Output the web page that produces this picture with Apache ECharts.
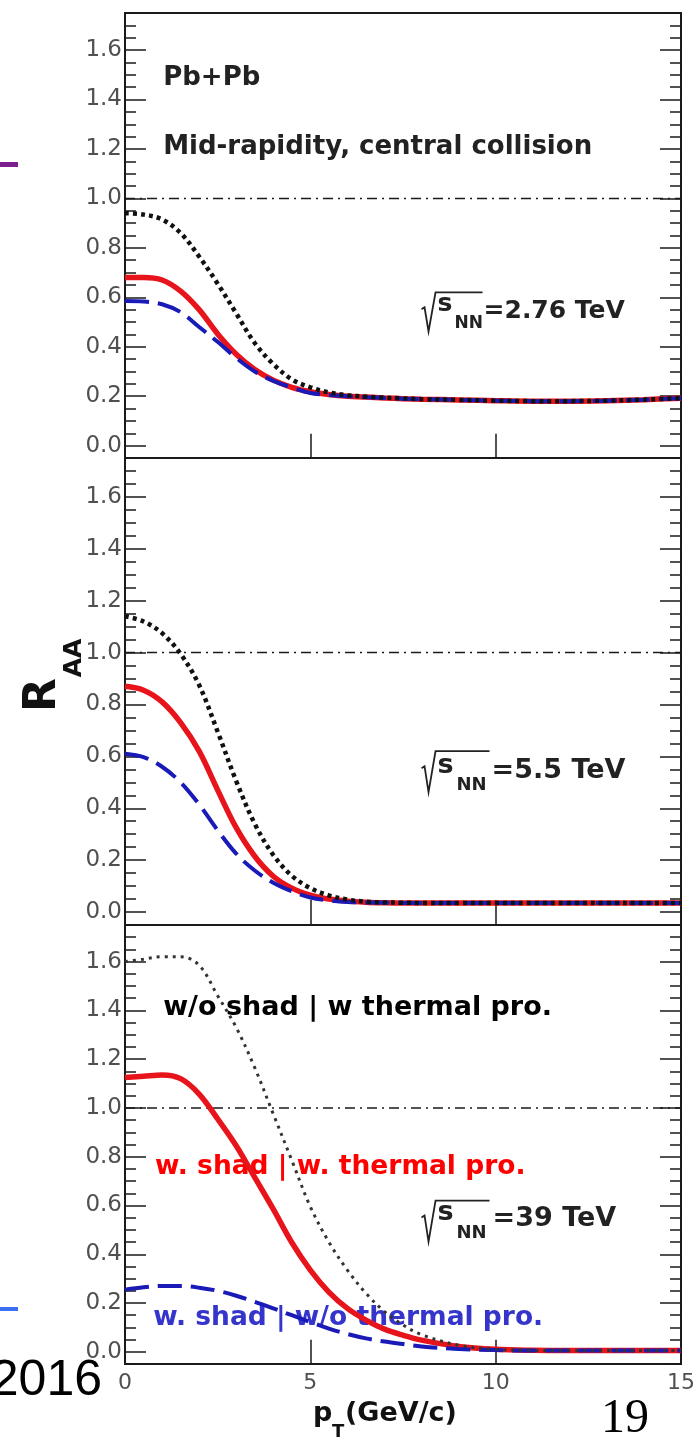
<!DOCTYPE html>
<html>
<head>
<meta charset="utf-8">
<script src="https://cdn.jsdelivr.net/npm/echarts@6/dist/echarts.min.js"></script>
<style>
  html, body { margin: 0; padding: 0; background: #fff; }
  #chart { width: 700px; height: 1440px; }
</style>
</head>
<body>
<div id="chart"></div>
<script>
// Transverse momentum grid (GeV/c)
const pT = [0, 0.5, 1, 1.5, 2, 2.5, 3, 3.5, 4, 4.5, 5, 5.5, 6, 6.5, 7, 7.5, 8, 9, 10, 11, 12, 13, 14, 15];

// sqrt(s_NN) = 2.76 TeV
const raa276_noShadThermal = [0.94, 0.935, 0.915, 0.86, 0.765, 0.655, 0.535, 0.415, 0.33, 0.268, 0.236, 0.215, 0.204, 0.198, 0.194, 0.191, 0.188, 0.185, 0.182, 0.18, 0.18, 0.182, 0.186, 0.192];
const raa276_shadThermal   = [0.68, 0.68, 0.67, 0.625, 0.55, 0.452, 0.37, 0.308, 0.265, 0.236, 0.218, 0.207, 0.2, 0.197, 0.193, 0.19, 0.188, 0.185, 0.182, 0.18, 0.18, 0.182, 0.186, 0.192];
const raa276_shadNoThermal = [0.585, 0.583, 0.572, 0.54, 0.48, 0.42, 0.355, 0.3, 0.262, 0.235, 0.213, 0.205, 0.2, 0.196, 0.193, 0.19, 0.188, 0.185, 0.182, 0.18, 0.18, 0.182, 0.186, 0.192];

// sqrt(s_NN) = 5.5 TeV
const raa55_noShadThermal = [1.14, 1.12, 1.075, 0.995, 0.875, 0.695, 0.505, 0.34, 0.22, 0.14, 0.092, 0.064, 0.048, 0.04, 0.037, 0.036, 0.035, 0.035, 0.035, 0.035, 0.035, 0.035, 0.035, 0.035];
const raa55_shadThermal   = [0.87, 0.855, 0.81, 0.73, 0.62, 0.47, 0.325, 0.215, 0.138, 0.092, 0.065, 0.05, 0.042, 0.038, 0.036, 0.035, 0.035, 0.035, 0.035, 0.035, 0.035, 0.035, 0.035, 0.035];
const raa55_shadNoThermal = [0.61, 0.597, 0.56, 0.5, 0.415, 0.315, 0.225, 0.16, 0.113, 0.08, 0.056, 0.045, 0.039, 0.037, 0.036, 0.035, 0.035, 0.035, 0.035, 0.035, 0.035, 0.035, 0.035, 0.035];

// sqrt(s_NN) = 39 TeV
const raa39_noShadThermal = [1.6, 1.61, 1.62, 1.62, 1.585, 1.46, 1.33, 1.165, 0.975, 0.785, 0.595, 0.45, 0.335, 0.24, 0.165, 0.11, 0.07, 0.027, 0.01, 0.006, 0.005, 0.005, 0.005, 0.005];
const raa39_shadThermal   = [1.125, 1.13, 1.135, 1.12, 1.057, 0.955, 0.845, 0.715, 0.585, 0.448, 0.335, 0.245, 0.178, 0.13, 0.093, 0.068, 0.048, 0.022, 0.01, 0.006, 0.005, 0.005, 0.005, 0.005];
const raa39_shadNoThermal = [0.255, 0.265, 0.27, 0.27, 0.263, 0.25, 0.23, 0.205, 0.178, 0.15, 0.122, 0.095, 0.073, 0.055, 0.042, 0.032, 0.022, 0.012, 0.007, 0.005, 0.005, 0.005, 0.005, 0.005];

// Unity reference line R_AA = 1
const unityX = [0, 15];
const unityY = [1, 1];

// Tick labels
const yMajorTicks = [0, 0.2, 0.4, 0.6, 0.8, 1.0, 1.2, 1.4, 1.6];
const xTicks = [0, 5, 10, 15];
const energyLabels = ['=2.76 TeV', '=5.5 TeV', '=39 TeV'];

const panels = [
  { noShad: raa276_noShadThermal, shadTh: raa276_shadThermal, shadNoTh: raa276_shadNoThermal },
  { noShad: raa55_noShadThermal,  shadTh: raa55_shadThermal,  shadNoTh: raa55_shadNoThermal },
  { noShad: raa39_noShadThermal,  shadTh: raa39_shadThermal,  shadNoTh: raa39_shadNoThermal }
];

const Y_MIN = -0.05, Y_MAX = 1.75;
const FONT = '"DejaVu Sans", sans-serif';
const INK = '#1a1a1a';

const gridBoxes = [
  { top: 13,  height: 445 },
  { top: 458, height: 467 },
  { top: 925, height: 439 }
];

const grid = gridBoxes.map(b => ({
  left: 125, right: 19, top: b.top, height: b.height,
  show: true, borderColor: INK, borderWidth: 2, backgroundColor: 'transparent'
}));

const xAxis = [];
const yAxis = [];
gridBoxes.forEach((b, g) => {
  ['bottom', 'top'].forEach(pos => {
    xAxis.push({
      gridIndex: g, type: 'value', position: pos, min: 0, max: 15, interval: 5,
      axisLine: { show: false },
      axisTick: { inside: true, length: 12, lineStyle: { color: INK, width: 1.5 } },
      axisLabel: {
        show: pos === 'bottom' && g === 2, margin: 8,
        customValues: xTicks,
        fontFamily: FONT, fontSize: 22, color: '#505050'
      },
      splitLine: { show: false }
    });
  });
  ['left', 'right'].forEach(pos => {
    // major ticks with labels
    yAxis.push({
      gridIndex: g, type: 'value', position: pos, min: Y_MIN, max: Y_MAX,
      axisLine: { show: false },
      axisTick: { inside: true, length: 21, customValues: yMajorTicks, lineStyle: { color: INK, width: 1.5 } },
      axisLabel: {
        show: pos === 'left', margin: 3, customValues: yMajorTicks,
        formatter: v => v.toFixed(1),
        fontFamily: FONT, fontSize: 23, color: '#505050'
      },
      splitLine: { show: false }
    });
    // minor ticks every 0.05
    yAxis.push({
      gridIndex: g, type: 'value', position: pos, min: Y_MIN, max: Y_MAX, interval: 0.05,
      axisLine: { show: false },
      axisTick: { inside: true, length: 11, lineStyle: { color: INK, width: 1.5 } },
      axisLabel: { show: false },
      splitLine: { show: false }
    });
  });
});

const pairs = (xs, ys) => xs.map((x, i) => [x, ys[i]]);

const series = [];
panels.forEach((p, g) => {
  const xi = 2 * g, yi = 4 * g;
  series.push({
    type: 'line', xAxisIndex: xi, yAxisIndex: yi, data: pairs(unityX, unityY),
    symbol: 'none', silent: true,
    lineStyle: { color: INK, width: 1.5, type: [10, 5, 2, 5] }
  });
  series.push({
    name: 'w. shad | w. thermal pro.', type: 'line', xAxisIndex: xi, yAxisIndex: yi,
    data: pairs(pT, p.shadTh), symbol: 'none', smooth: 0.35,
    lineStyle: { color: '#e8141c', width: 5.5 }
  });
  series.push({
    name: 'w. shad | w/o thermal pro.', type: 'line', xAxisIndex: xi, yAxisIndex: yi,
    data: pairs(pT, p.shadNoTh), symbol: 'none', smooth: 0.35,
    lineStyle: { color: '#1a1ab8', width: 4, type: [24, 9] }
  });
  series.push({
    name: 'w/o shad | w thermal pro.', type: 'line', xAxisIndex: xi, yAxisIndex: yi,
    data: pairs(pT, p.noShad), symbol: 'none', smooth: 0.35,
    lineStyle: g === 2 ? { color: '#333', width: 3, type: [3, 5] }
                       : { color: '#111', width: 4.5, type: [4, 4] }
  });
});

const chart = echarts.init(document.getElementById('chart'), null, { renderer: 'canvas' });
chart.setOption({
  animation: false,
  backgroundColor: '#fff',
  grid, xAxis, yAxis, series
});

// data -> pixel for panel g
const toPx = (g, pt) => chart.convertToPixel({ xAxisIndex: 2 * g, yAxisIndex: 4 * g }, pt);

function label(g, pt, text, size, color) {
  const [x, y] = toPx(g, pt);
  return {
    type: 'text', x, y, silent: true,
    style: { text, fill: color, font: `bold ${size}px ${FONT}`, align: 'left', verticalAlign: 'middle' }
  };
}

// sqrt(s_NN) energy label: radical with overline, s, NN subscript and the value
const sqrtLayouts = [
  { fs: 25, sub: 17, sx: 16, sy: 12, nx: 33, ny: 31, tx: 62, ty: 19, bottom: 39, over: 61 },
  { fs: 27, sub: 18, sx: 16, sy: 15, nx: 35, ny: 34, tx: 70, ty: 20, bottom: 41, over: 68 },
  { fs: 27, sub: 18, sx: 16, sy: 12, nx: 35, ny: 33, tx: 71, ty: 18, bottom: 41, over: 68 }
];
function sqrtLabel(g) {
  const L = sqrtLayouts[g];
  const [x, y] = toPx(g, [8.0, 0.62]);
  const txt = (t, dx, dy, fs) => ({
    type: 'text', x: dx, y: dy, silent: true,
    style: { text: t, fill: '#222', font: `bold ${fs}px ${FONT}`, align: 'left', verticalAlign: 'middle' }
  });
  return {
    type: 'group', x, y, silent: true,
    children: [
      { type: 'polyline', shape: { points: [[0, 17], [3, 15], [7, L.bottom], [14, 0], [L.over, 0]] },
        style: { stroke: '#222', lineWidth: 1.8, fill: null } },
      txt('s', L.sx, L.sy, L.fs),
      txt('NN', L.nx, L.ny, L.sub),
      txt(energyLabels[g], L.tx, L.ty, L.fs)
    ]
  };
}

const graphic = [
  label(0, [1.03, 1.488], 'Pb+Pb', 26, '#222'),
  label(0, [1.03, 1.207], 'Mid-rapidity, central collision', 26, '#222'),
  sqrtLabel(0), sqrtLabel(1), sqrtLabel(2),
  label(2, [1.03, 1.41], 'w/o shad | w thermal pro.', 27, '#000'),
  label(2, [0.81, 0.756], 'w. shad | w. thermal pro.', 26.5, '#ff0000'),
  label(2, [0.76, 0.14], 'w. shad | w/o thermal pro.', 26.5, '#3535cc'),
  // axis titles
  { type: 'text', x: 43.5, y: 695, rotation: Math.PI / 2, silent: true,
    style: { text: 'R', fill: '#111', font: `bold 44px ${FONT}`, align: 'center', verticalAlign: 'middle' } },
  { type: 'text', x: 74, y: 658, rotation: Math.PI / 2, silent: true,
    style: { text: 'AA', fill: '#111', font: `bold 25px ${FONT}`, align: 'center', verticalAlign: 'middle' } },
  { type: 'text', x: 313, y: 1413.5, silent: true,
    style: { text: 'p', fill: '#111', font: `bold 27px ${FONT}`, align: 'left', verticalAlign: 'middle' } },
  { type: 'text', x: 332, y: 1432, silent: true,
    style: { text: 'T', fill: '#111', font: `bold 18px ${FONT}`, align: 'left', verticalAlign: 'middle' } },
  { type: 'text', x: 345, y: 1413.5, silent: true,
    style: { text: '(GeV/c)', fill: '#111', font: `bold 27px ${FONT}`, align: 'left', verticalAlign: 'middle' } },
  // slide decorations
  { type: 'rect', shape: { x: 0, y: 162, width: 18, height: 5 }, style: { fill: '#7b1f8e' }, silent: true },
  { type: 'rect', shape: { x: 0, y: 1307, width: 18, height: 4 }, style: { fill: '#3b6ff2' }, silent: true },
  { type: 'text', x: 102, y: 1381, silent: true,
    style: { text: '2016', fill: '#000', font: `50px "Liberation Sans", Arial, sans-serif`, align: 'right', verticalAlign: 'middle' } },
  { type: 'text', x: 601, y: 1419, silent: true,
    style: { text: '19', fill: '#000', font: `48px "Liberation Serif", serif`, align: 'left', verticalAlign: 'middle' } }
];

chart.setOption({ graphic });
</script>
</body>
</html>
